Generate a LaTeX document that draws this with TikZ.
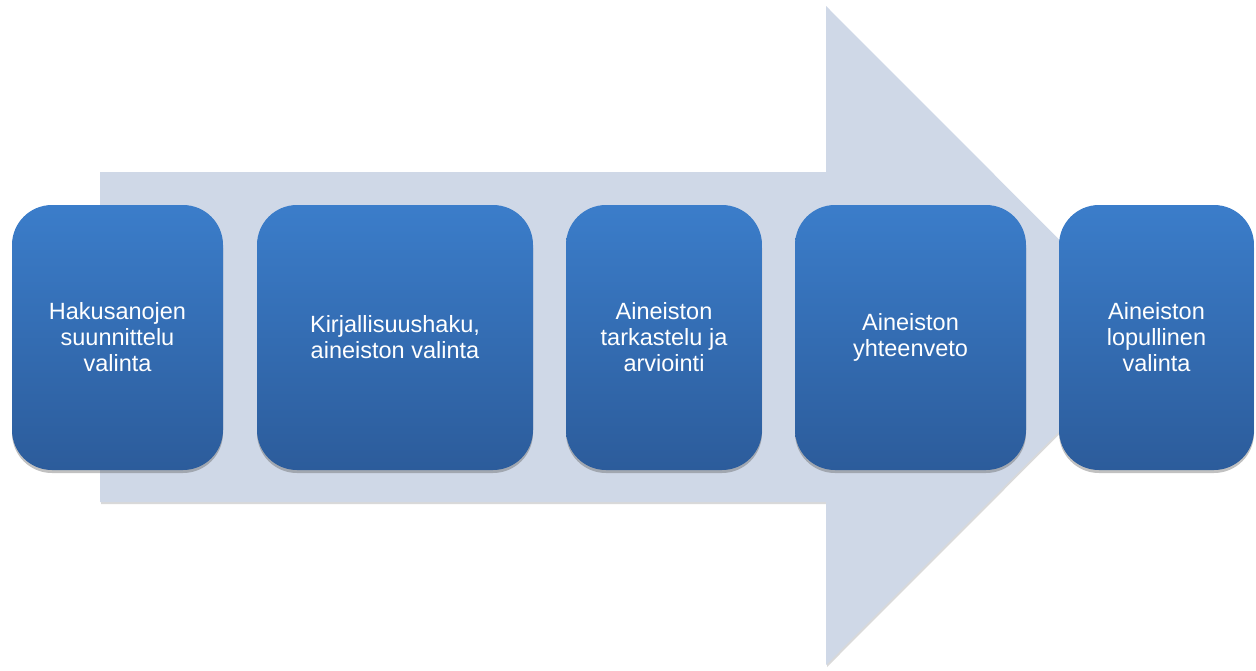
\documentclass[tikz,border=0pt]{standalone}
\usepackage{fontspec}
\setmainfont{Liberation Sans}
\usetikzlibrary{shadows}
\definecolor{arrowfill}{HTML}{CFD8E7}
\definecolor{boxtop}{HTML}{3B7DCA}
\definecolor{boxbot}{HTML}{2C5C9B}
\tikzset{
  stepbox/.style={rounded corners=40pt, inner sep=0pt, outer sep=0pt,
    minimum height=265pt, top color=boxtop, bottom color=boxbot,
    text=white, align=center,
    font=\fontsize{23.5}{26}\selectfont,
    drop shadow={shadow xshift=0pt, shadow yshift=-3pt, opacity=0.35, fill=black!70}},
  bigarrow/.style={fill=arrowfill,
    drop shadow={shadow xshift=1pt, shadow yshift=-2pt, opacity=0.25, fill=black!60}}
}
\begin{document}
\begin{tikzpicture}[x=1pt,y=-1pt]
\useasboundingbox (0,0) rectangle (1256,670);
\fill[bigarrow] (100,172) -- (826,172) -- (826,6) -- (1155,335.5) -- (826,665) -- (826,502) -- (100,502) -- cycle;
\node[stepbox, minimum width=211pt] (b1) at (117.5,337.5) {Hakusanojen\\suunnittelu\\valinta};
\node[stepbox, minimum width=276pt] (b2) at (395,337.5) {Kirjallisuushaku,\\aineiston valinta};
\node[stepbox, minimum width=196pt] (b3) at (664,337.5) {Aineiston\\tarkastelu ja\\arviointi};
\node[stepbox, minimum width=231pt] (b4) at (910.5,337.5) {Aineiston\\yhteenveto};
\node[stepbox, minimum width=195pt] (b5) at (1156.5,337.5) {Aineiston\\lopullinen\\valinta};
\end{tikzpicture}
\end{document}
